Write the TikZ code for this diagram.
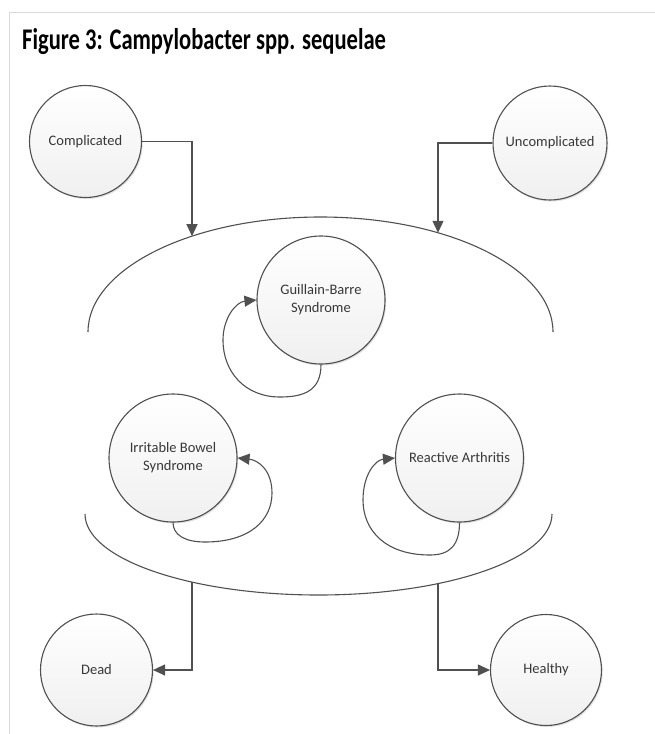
\documentclass[tikz,border=0pt]{standalone}
\usepackage{fontspec}
\setmainfont{Carlito}
\usetikzlibrary{arrows.meta,shadows}
\definecolor{edge}{HTML}{505050}
\definecolor{txt}{HTML}{383838}
\definecolor{frame}{HTML}{D9D9D9}
\tikzset{
  state/.style={circle, draw=edge, line width=1.1pt, top color=white, bottom color=black!6,
    drop shadow={shadow xshift=1.2pt, shadow yshift=-1.5pt, fill=black, opacity=0.12},
    font=\fontsize{14.5}{18}\selectfont, text=txt, align=center, inner sep=0pt},
  small/.style={state, minimum size=112pt},
  big/.style={state, minimum size=128pt},
  conn/.style={draw=edge, line width=1.1pt, -{Triangle[length=12pt,width=11pt]}},
  bracket/.style={draw=edge, line width=1.1pt},
  frameline/.style={draw=frame, line width=1.5pt}
}
\begin{document}
\begin{tikzpicture}[x=1pt,y=-1pt]
\useasboundingbox (0,0) rectangle (655,734);
\draw[frameline] (655,12.5) -- (9.5,12.5) -- (9.5,734);
\node[anchor=base west, inner sep=0pt, font=\fontsize{24}{28}\selectfont\bfseries] (title) at (22,49) {\scalebox{0.94}[1.25]{Figure 3: Campylobacter spp. sequelae}};

\node[small] (comp) at (85.5,141.5) {Complicated};
\node[small, minimum size=114pt] (unc) at (550,143) {Uncomplicated};
\node[big] (gbs) at (321,300) {Guillain-Barre\\Syndrome};
\node[big] (ibs) at (173,458) {Irritable Bowel\\Syndrome};
\node[big] (ra) at (459.5,458) {Reactive Arthritis};
\node[small] (dead) at (96.5,670) {Dead};
\node[small, minimum size=111pt] (healthy) at (546,670) {Healthy};

% brackets (open ellipse halves)
\draw[bracket] (88,332) arc[start angle=180, end angle=360, x radius=232.5, y radius=115];
\draw[bracket] (85,514) arc[start angle=180, end angle=0, x radius=233.5, y radius=81];
\coordinate (ta1) at (192,236.2);
\coordinate (ta2) at (438,232.8);
\coordinate (ba1) at (192,582.1);
\coordinate (ba2) at (438,583.6);

\draw[conn] (comp.east) -| (ta1);
\draw[conn] (unc.west) -| (ta2);
\draw[conn] (ba1) |- (dead.east);
\draw[conn] (ba2) |- (healthy.west);

% self loops
\draw[conn] (gbs.south) .. controls (321,390) and (305,397) .. (280,397)
  .. controls (245,397) and (223,372) .. (223,340)
  .. controls (223,318) and (236,302) .. (gbs.west);
\draw[conn] (ibs.south) .. controls (173,535) and (185,542) .. (205,542)
  .. controls (250,542) and (272,520) .. (272,493)
  .. controls (272,470) and (258,460) .. (ibs.east);
\draw[conn] (ra.south) .. controls (459.5,545) and (450,555) .. (430,555)
  .. controls (385,555) and (363,530) .. (363,500)
  .. controls (363,475) and (375,460) .. (ra.west);
\end{tikzpicture}
\end{document}
